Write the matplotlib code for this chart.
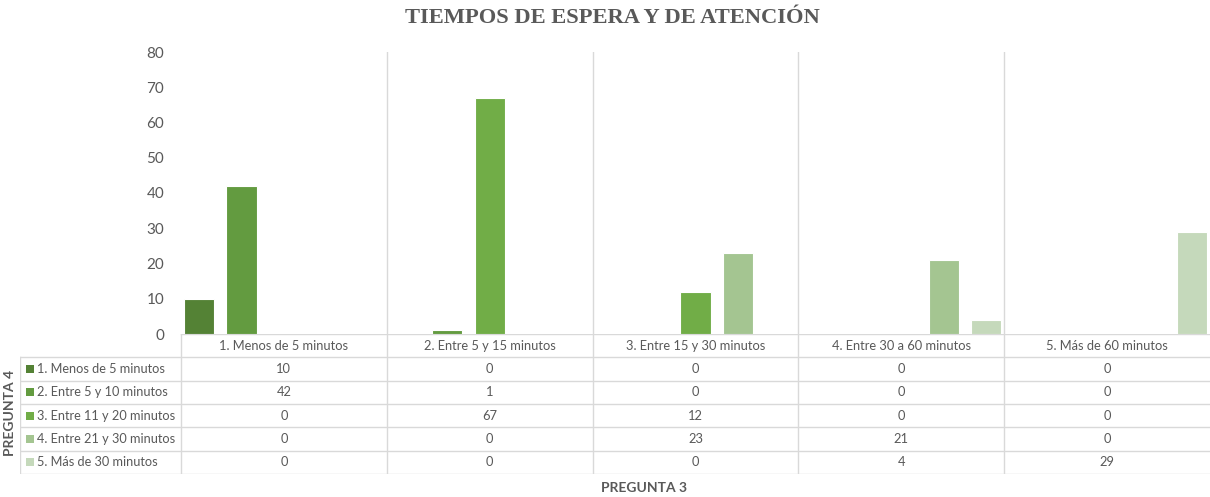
import matplotlib.pyplot as plt
import numpy as np

# answers to question 3 (columns) crossed with question 4 (series)
categorias = ["1. Menos de 5 minutos", "2. Entre 5 y 15 minutos",
              "3. Entre 15 y 30 minutos", "4. Entre 30 a 60 minutos",
              "5. Más de 60 minutos"]
series = ["1. Menos de 5 minutos", "2. Entre 5 y 10 minutos",
          "3. Entre 11 y 20 minutos", "4. Entre 21 y 30 minutos",
          "5. Más de 30 minutos"]
s1 = [10, 0, 0, 0, 0]
s2 = [42, 1, 0, 0, 0]
s3 = [0, 67, 12, 0, 0]
s4 = [0, 0, 23, 21, 0]
s5 = [0, 0, 0, 4, 29]
valores = [s1, s2, s3, s4, s5]
colores = ["#548235", "#639b40", "#71ad47", "#a4c591", "#c5d9bb"]

gris = "#595959"
linea = "#d9d9d9"
plt.rcParams["font.family"] = ["Lato", "DejaVu Sans"]

W, H = 1210, 497
fig = plt.figure(figsize=(W / 100, H / 100), dpi=100)

# chart area
x0, x1 = 181, 1210
ytop, ybase = 52, 334
ax = fig.add_axes([x0 / W, 1 - ybase / H, (x1 - x0) / W, (ybase - ytop) / H])
n = len(categorias)
xc = np.arange(n) + 0.5
paso, ancho = 0.206, 0.146
for j, vals in enumerate(valores):
    ax.bar(xc + (j - 2) * paso, vals, width=ancho, color=colores[j],
           edgecolor="white", linewidth=0.8, zorder=3)
ax.set_xlim(0, n)
ax.set_ylim(0, 80)
ax.set_yticks(range(0, 81, 10))
ax.set_xticks([])
ax.tick_params(axis="y", length=0, pad=12, labelsize=11, labelcolor=gris)
for s in ax.spines.values():
    s.set_visible(False)
for k in range(1, n):
    ax.axvline(k, color=linea, lw=1.0, zorder=1)

# data table under the chart
xl = (20 - x0) / ((x1 - x0) / n)
ytab = 474
tab = fig.add_axes([20 / W, 1 - ytab / H, (x1 - 20) / W, (ytab - ybase) / H])
tab.set_xlim(xl, n)
tab.set_ylim(6, 0)
tab.axis("off")
tab.plot([0, n], [0, 0], color=linea, lw=1.0)
for r in range(1, 7):
    tab.plot([xl, n], [r, r], color=linea, lw=1.0)
tab.plot([xl, xl], [1, 6], color=linea, lw=1.0)
for k in range(0, n):
    tab.plot([k, k], [0, 6], color=linea, lw=1.0)

for i, c in enumerate(categorias):
    tab.text(i + 0.5, 0.5, c, ha="center", va="center", fontsize=9.3, color=gris)
for j, (nombre, vals) in enumerate(zip(series, valores)):
    fila = j + 1.5
    tab.plot(xl + 0.05, fila, marker="s", ms=6, color=colores[j], mew=0)
    tab.text(xl + 0.083, fila, nombre, ha="left", va="center",
             fontsize=9.2, color=gris)
    for i, v in enumerate(vals):
        tab.text(i + 0.5, fila, str(v), ha="center", va="center",
                 fontsize=9.3, color=gris)

fig.text(10 / W, 1 - 413 / H, "PREGUNTA 4", rotation=90, ha="center",
         va="center", fontsize=10, fontweight="bold", color=gris)
fig.text(644 / W, 1 - 488 / H, "PREGUNTA 3", ha="center", va="center",
         fontsize=10, fontweight="bold", color=gris)
fig.text(612 / W, 1 - 18 / H, "TIEMPOS DE ESPERA Y DE ATENCIÓN",
         ha="center", va="center", fontsize=16.2, fontweight="bold",
         color=gris, family="Liberation Serif")

fig.savefig("out.png", dpi=100)
